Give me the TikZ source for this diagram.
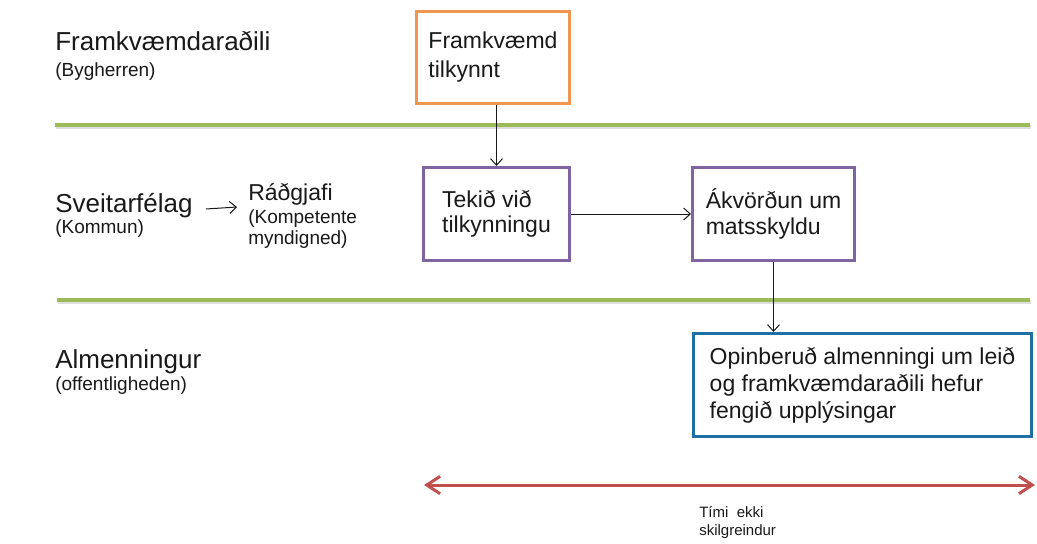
\documentclass[tikz,border=0pt]{standalone}
\usepackage{fontspec}
\setmainfont{Liberation Sans}
\usetikzlibrary{arrows.meta,calc}
\definecolor{gline}{RGB}{155,187,89}
\definecolor{oborder}{RGB}{240,150,80}
\definecolor{pborder}{RGB}{128,100,162}
\definecolor{bborder}{RGB}{31,112,163}
\definecolor{rline}{RGB}{192,80,77}
\definecolor{txt}{RGB}{25,25,25}
\begin{document}
\begin{tikzpicture}[x=0.75pt,y=-0.75pt,
  big/.style={font=\fontsize{19.5}{23}\selectfont, inner sep=0pt, anchor=base west, text=txt},
  mid/.style={font=\fontsize{17.25}{21}\selectfont, inner sep=0pt, anchor=base west, text=txt},
  sub/.style={font=\fontsize{14.25}{17}\selectfont, inner sep=0pt, anchor=base west, text=txt},
  tiny/.style={font=\fontsize{11.25}{13.5}\selectfont, inner sep=0pt, anchor=base west, text=txt},
  boxbase/.style={line width=2.25pt, fill=white, align=left, text=txt, inner sep=0pt, anchor=north west},
  obox/.style={boxbase, draw=oborder, font=\fontsize{17.25}{21.75}\selectfont},
  pbox/.style={boxbase, draw=pborder, font=\fontsize{17.25}{19}\selectfont},
  bbox/.style={boxbase, draw=bborder, font=\fontsize{17.25}{20.25}\selectfont},
  flow/.style={line width=0.75pt, draw=txt, -{Straight Barb[length=5pt,width=9pt]}},
  lane/.style={line width=3pt, draw=gline},
  laneshadow/.style={line width=3pt, draw=black!25, opacity=0.5},
  timeline/.style={line width=2.25pt, draw=rline, {Straight Barb[length=10pt,width=13pt]}-{Straight Barb[length=10pt,width=13pt]}}
]
\path[use as bounding box, fill=white] (0,0) rectangle (1037,543);

% lanes
\coordinate (l1a) at (55,125);
\coordinate (l1b) at (1030,125);
\coordinate (l2a) at (57,300);
\coordinate (l2b) at (1030,300);
\draw[laneshadow] ($(l1a)+(1,2)$) -- ($(l1b)+(1,2)$);
\draw[laneshadow] ($(l2a)+(1,2)$) -- ($(l2b)+(1,2)$);
\draw[lane] (l1a) -- (l1b);
\draw[lane] (l2a) -- (l2b);

% left labels
\node[big] (fram) at (55,50) {Framkvæmdaraðili};
\node[sub] (byg) at (55,76) {(Bygherren)};
\node[big] (sveit) at (55,212) {Sveitarfélag};
\node[sub] (komm) at (55,233) {(Kommun)};
\node[mid] (radgj) at (248,200) {Ráðgjafi};
\node[sub] (komp) at (248,223) {(Kompetente};
\node[sub] (mynd) at (248,244) {myndigned)};
\node[big] (alm) at (55,368) {Almenningur};
\node[sub] (offe) at (55,390) {(offentligheden)};

\draw[flow] ($(sveit.base east)+(13,-3)$) -- ($(radgj.base west)+(-11,7)$);

% boxes
\node[obox, minimum width=114.75pt, minimum height=69pt] (ob) at (415,10) {Framkvæmd\\tilkynnt};
\node[pbox, minimum width=109.5pt, minimum height=69.75pt] (p1) at (422,166) {Tekið við\\tilkynningu};
\node[pbox, minimum width=121.5pt, minimum height=69.75pt] (p2) at (691,166) {Ákvörðun um\\matsskyldu};
\node[bbox, minimum width=253.5pt, minimum height=77.25pt] (bl) at (692,332) {Opinberuð almenningi um leið\\og framkvæmdaraðili hefur\\fengið upplýsingar};

\draw[flow] (p1.north |- ob.south) -- (p1.north);
\draw[flow] (p1.east) -- (p2.west);
\draw[flow] (p2.south) -- (p2.south |- bl.north);

% time line
\coordinate (tL) at (424,485);
\coordinate (tR) at (1035,485);
\draw[timeline] (tL) -- (tR);
\node[tiny] (tim1) at (699,517) {Tími\ \ ekki};
\node[tiny] (tim2) at (699,535) {skilgreindur};
\end{tikzpicture}
\end{document}
